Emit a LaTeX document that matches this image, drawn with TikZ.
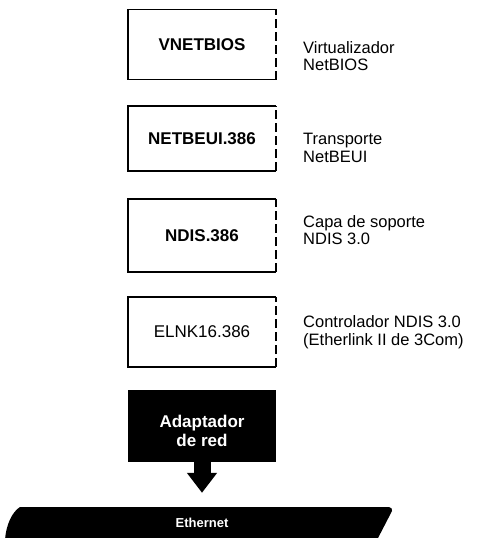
\documentclass[tikz,border=0pt]{standalone}
\usepackage{fontspec}
\setmainfont{Liberation Sans}
\usetikzlibrary{arrows.meta}
\begin{document}
\begin{tikzpicture}[x=1pt,y=-1pt,
  layerbox/.style={minimum width=148pt,minimum height=70pt,inner sep=0pt,font=\fontsize{17}{18}\selectfont},
  sidelabel/.style={anchor=west,align=left,inner sep=0pt,font=\fontsize{16.5}{17.5}\selectfont},
  edge/.style={line width=1.5pt},
  dashedge/.style={line width=1.5pt,dash pattern=on 9pt off 4pt}]
\useasboundingbox (0,0) rectangle (479,538);
% boxes
\node[layerbox] (b1) at (202,44.5) {\bfseries VNETBIOS};
\node[layerbox,minimum height=65pt] (b2) at (202,138.5) {\bfseries NETBEUI.386};
\node[layerbox,minimum height=73pt] (b3) at (202,235.5) {\bfseries NDIS.386};
\node[layerbox] (b4) at (202,332) {ELNK16.386};
\foreach \b in {b1,b2,b3,b4}{
  \draw[edge] (\b.north east) -- (\b.north west) -- (\b.south west) -- (\b.south east);
  \draw[dashedge] (\b.south east) -- (\b.north east);
}
% labels
\node[sidelabel] (l1) at (303,56) {Virtualizador\\NetBIOS};
\node[sidelabel] (l2) at (303,148) {Transporte\\NetBEUI};
\node[sidelabel] (l3) at (303,230) {Capa de soporte\\NDIS 3.0};
\node[sidelabel] (l4) at (303,332) {Controlador NDIS 3.0\\(Etherlink II de 3Com)};
% adapter
\node[fill=black,minimum width=148pt,minimum height=72pt,inner sep=0pt] (ad) at (202,426) {};
\node[text=white,align=center,inner sep=0pt,
  font=\bfseries\fontsize{17}{19}\selectfont] (adtext) at (202,431) {Adaptador\\de red};
% ethernet band
\fill[black] (20,507) -- (389,507) to[out=0,in=60] (392,511) -- (377,540) -- (5,540)
  .. controls (6,525) and (12,512) .. (20,507) -- cycle;
\node[text=white,font=\bfseries\fontsize{13}{14}\selectfont,inner sep=0pt,minimum height=31pt] (eth) at (202,522.5) {Ethernet};
% arrow
\draw[line width=17pt,-{Triangle[width=29pt,length=20pt]},shorten >=14pt] (ad.south) -- (eth.north);
\end{tikzpicture}
\end{document}
